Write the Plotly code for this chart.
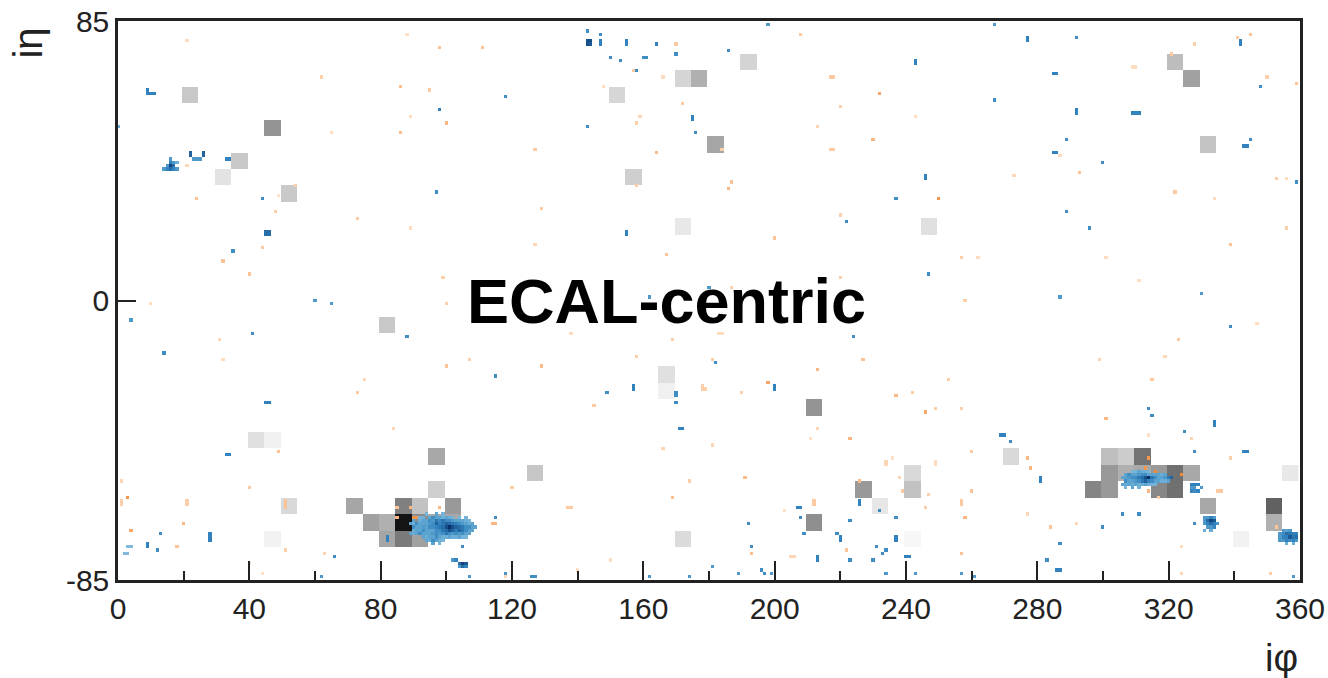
import numpy as np
import plotly.graph_objects as go

# ---------------------------------------------------------------------------
# HCAL towers: (tower iphi index 0..71, tower ieta index 0..33, energy 0..1)
# each tower covers 5x5 ECAL crystals
# ---------------------------------------------------------------------------
hcal_tphi = [4, 9, 7, 6, 10, 30, 34, 35, 31, 34, 36, 38, 49, 64, 65, 66,
             16, 8, 9, 10, 9, 19, 19,
             14, 17, 18, 20,
             15, 16, 17, 18, 19, 20,
             16, 17, 18,
             25, 33, 33, 34, 42, 42, 45, 46, 48, 48, 48, 54,
             60, 61, 62,
             60, 61, 62, 63, 64, 65,
             59, 60, 63, 64,
             66, 70, 70, 71, 68]
hcal_teta = [29, 27, 25, 24, 23, 29, 30, 30, 24, 21, 26, 31, 21, 31, 30, 26,
             15, 8, 8, 4, 2, 7, 5,
             4, 4, 4, 4,
             3, 3, 3, 3, 3, 3,
             2, 2, 2,
             6, 12, 11, 2, 10, 3, 5, 4, 6, 5, 2, 7,
             7, 7, 7,
             6, 6, 6, 6, 6, 6,
             5, 5, 5, 5,
             4, 4, 3, 6, 2]
hcal_energy = [0.215, 0.42, 0.215, 0.11, 0.21, 0.16, 0.165, 0.31, 0.19, 0.09, 0.35, 0.17, 0.12, 0.26, 0.37, 0.23,
               0.215, 0.12, 0.06, 0.15, 0.05, 0.34, 0.19,
               0.35, 0.50, 0.24, 0.40,
               0.37, 0.31, 0.92, 0.45, 0.34, 0.34,
               0.35, 0.52, 0.37,
               0.22, 0.12, 0.06, 0.14, 0.42, 0.44, 0.40, 0.10, 0.15, 0.24, 0.03, 0.15,
               0.25, 0.20, 0.55,
               0.40, 0.31, 0.34, 0.40, 0.56, 0.34,
               0.48, 0.40, 0.47, 0.56,
               0.34, 0.62, 0.31, 0.09, 0.05]

# ---------------------------------------------------------------------------
# ECAL crystal hits (blue): iphi, ieta, normalised energy
# ---------------------------------------------------------------------------
ecal_hits = [
    # scattered upper half
    (143, 82, .55), (147, 81, .55), (143, 79, .85), (144, 79, .85), (143, 78, .85), (144, 78, .8),
    (147, 79, .6), (147, 78, .6), (155, 79, .6), (155, 78, .6), (164, 78, .6), (170, 75, .55),
    (150, 74, .55), (153, 73, .55), (160, 74, .55), (161, 74, .55), (158, 70, .55), (118, 62, .55),
    (98, 58, .6), (143, 53, .55), (175, 56, .6), (175, 55, .6), (176, 51, .55), (97, 33, .55),
    (44, 31, .55), (45, 20, .7), (46, 20, .7), (45, 21, .7), (46, 21, .7), (35, 15, .55),
    (155, 21, .6), (155, 20, .6), (60, 0, .5), (65, -1, .5), (162, 1, .5), (180, 4, .5), (0, 53, .4),
    (9, 64, .6), (9, 63, .6), (10, 63, .6), (11, 63, .6),
    (16, 43, .5), (17, 42, .5), (16, 42, .6), (15, 41, .5), (16, 41, .9), (17, 41, .7),
    (14, 40, .5), (15, 40, .6), (16, 40, .7), (17, 40, .6), (18, 40, .5), (18, 42, .4),
    (22, 44, .75), (22, 45, .75), (26, 44, .75), (26, 45, .75), (23, 43, .5), (24, 43, .5), (25, 43, .5),
    (33, 43, .6), (34, 43, .6),
    (186, 76, .55), (243, 73, .6), (243, 72, .6), (277, 80, .6), (277, 79, .6), (292, 80, .55),
    (285, 69, .6), (286, 69, .6), (267, 61, .55), (292, 58, .6), (292, 57, .6),
    (309, 57, .6), (310, 57, .6), (311, 57, .6), (289, 49, .55), (285, 45, .6), (286, 45, .6),
    (300, 42, .55), (342, 79, .6), (342, 78, .6), (348, 65, .55), (345, 49, .55), (343, 47, .6),
    (344, 47, .6), (359, 36, .55), (246, 38, .6), (246, 37, .6), (237, 31, .55), (222, 24, .55),
    (289, 27, .55), (296, 22, .55), (247, 8, .55), (287, 1, .5), (330, 2, .5), (198, 84, .5), (267, 84, .5),
    # scattered lower half
    (4, -6, .5), (41, -10, .55), (14, -16, .55), (88, -11, .55), (115, -23, .55), (45, -31, .6),
    (46, -31, .6), (33, -47, .6), (34, -47, .6), (149, -28, .55), (157, -27, .6), (157, -26, .6),
    (170, -29, .55), (170, -28, .55), (170, -31, .55), (171, -39, .6), (172, -39, .6), (182, -19, .55),
    (115, -66, .55), (13, -71, .55), (9, -74, .6), (9, -75, .6), (12, -76, .55),
    (3, -75, .3), (4, -75, .3), (2, -77, .3), (3, -77, .3), (28, -71, .6), (28, -72, .6), (28, -73, .6),
    (66, -78, .55), (82, -72, .6), (82, -73, .6), (105, -75, .55), (118, -83, .5), (126, -84, .55),
    (127, -84, .55), (107, -84, .5), (62, -84, .5), (162, -84, .5), (174, -84, .5), (181, -81, .5),
    (102, -79, .5), (103, -79, .6), (104, -80, .7), (105, -80, .9), (106, -80, .8), (105, -81, .7),
    (106, -81, .6), (104, -81, .5),
    (224, -11, .55), (200, -26, .6), (200, -27, .6), (339, -8, .55), (269, -41, .6), (270, -41, .6),
    (272, -43, .55), (281, -54, .6), (281, -55, .6), (314, -33, .55), (315, -35, .55), (325, -40, .55),
    (334, -37, .6), (334, -38, .6), (328, -46, .55), (343, -46, .6), (344, -46, .6), (306, -65, .55),
    (311, -65, .55), (300, -69, .55), (328, -68, .55), (287, -74, .55), (283, -79, .55), (286, -82, .6),
    (287, -82, .6), (207, -63, .6), (208, -63, .6), (208, -66, .55), (192, -68, .55), (209, -71, .55),
    (219, -71, .55), (220, -72, .6), (220, -73, .6), (223, -67, .55), (226, -61, .6), (226, -62, .6),
    (232, -64, .55), (237, -66, .55), (237, -72, .6), (237, -73, .6), (193, -75, .55), (213, -78, .6),
    (213, -79, .6), (223, -79, .55), (230, -79, .55), (231, -75, .55), (233, -77, .55), (234, -76, .55),
    (240, -78, .6), (241, -78, .6), (189, -83, .5), (196, -82, .55), (197, -83, .55), (199, -83, .5),
    (234, -83, .5), (243, -83, .5), (257, -83, .5), (261, -84, .5), (358, -84, .5),
    # shower near iphi 100, ieta -70
    (94, -65, .35), (97, -65, .45), (99, -65, .35),
    (92, -66, .35), (93, -66, .4), (95, -66, .45), (96, -66, .55), (97, -66, .45), (98, -66, .45), (99, -66, .4),
    (100, -66, .45), (101, -66, .4), (102, -66, .35), (104, -66, .35), (106, -66, .35),
    (90, -67, .45), (92, -67, .4), (93, -67, .45), (94, -67, .45), (95, -67, .55), (96, -67, .5), (97, -67, .65),
    (98, -67, .55), (99, -67, .65), (100, -67, .55), (101, -67, .55), (102, -67, .5), (103, -67, .45),
    (104, -67, .45), (105, -67, .45), (106, -67, .4), (107, -67, .35),
    (89, -68, .45), (90, -68, .4), (91, -68, .55), (92, -68, .45), (93, -68, .45), (94, -68, .45), (95, -68, .5),
    (96, -68, .55), (97, -68, .75), (98, -68, .6), (99, -68, .65), (100, -68, .75), (101, -68, .7), (102, -68, .65),
    (103, -68, .6), (104, -68, .55), (105, -68, .5), (106, -68, .45), (107, -68, .4), (108, -68, .45),
    (90, -69, .55), (91, -69, .45), (92, -69, .45), (93, -69, .5), (94, -69, .45), (95, -69, .55), (96, -69, .55),
    (97, -69, .6), (98, -69, .65), (99, -69, .7), (100, -69, .85), (101, -69, 1.0), (102, -69, .85),
    (103, -69, .75), (104, -69, .7), (105, -69, .65), (106, -69, .55), (107, -69, .55), (108, -69, .45), (109, -69, .45),
    (90, -70, .4), (91, -70, .45), (92, -70, .45), (93, -70, .55), (94, -70, .45), (95, -70, .45), (96, -70, .45),
    (97, -70, .55), (98, -70, .55), (99, -70, .65), (100, -70, .7), (101, -70, .85), (102, -70, .75), (103, -70, .65),
    (104, -70, .75), (105, -70, .65), (106, -70, .55), (107, -70, .45), (108, -70, .45),
    (89, -71, .45), (90, -71, .4), (91, -71, .45), (92, -71, .55), (93, -71, .45), (94, -71, .45), (95, -71, .45),
    (96, -71, .5), (97, -71, .55), (98, -71, .5), (99, -71, .55), (100, -71, .65), (101, -71, .55), (102, -71, .5),
    (103, -71, .55), (104, -71, .5), (105, -71, .55), (106, -71, .45), (107, -71, .45),
    (93, -72, .45), (94, -72, .4), (95, -72, .45), (96, -72, .45), (97, -72, .55), (98, -72, .45), (99, -72, .4),
    (100, -72, .4), (101, -72, .45), (102, -72, .4), (103, -72, .4), (104, -72, .45), (105, -72, .35), (106, -72, .35),
    (94, -73, .45), (95, -73, .4), (96, -73, .55), (97, -73, .45), (98, -73, .4), (99, -73, .35),
    (96, -74, .45), (98, -74, .35),
    # shower near iphi 313, ieta -54
    (309, -52, .35), (310, -52, .35), (311, -52, .45), (312, -52, .4), (313, -52, .4), (314, -52, .35), (316, -52, .35),
    (307, -53, .45), (308, -53, .55), (309, -53, .45), (310, -53, .45), (311, -53, .5), (312, -53, .55), (313, -53, .55),
    (314, -53, .45), (315, -53, .45), (316, -53, .45), (317, -53, .45), (318, -53, .4), (319, -53, .45),
    (306, -54, .45), (307, -54, .45), (308, -54, .5), (309, -54, .55), (310, -54, .55), (311, -54, .65),
    (312, -54, .7), (313, -54, .85), (314, -54, 1.0), (315, -54, .65), (316, -54, .55), (317, -54, .45),
    (318, -54, .45), (319, -54, .5), (320, -54, .65), (321, -54, .75),
    (307, -55, .55), (308, -55, .45), (309, -55, .45), (310, -55, .5), (311, -55, .55), (312, -55, .65),
    (313, -55, .75), (314, -55, .6), (315, -55, .55), (316, -55, .45), (317, -55, .45), (318, -55, .4),
    (319, -55, .4), (320, -55, .45),
    (306, -56, .45), (307, -56, .4), (308, -56, .45), (309, -56, .4), (310, -56, .45), (311, -56, .4),
    (312, -56, .4), (313, -56, .45), (314, -56, .4), (315, -56, .35), (316, -56, .35),
    (307, -57, .35), (309, -57, .45), (311, -57, .35),
    (327, -56, .6), (328, -56, .6), (329, -56, .6), (327, -57, .5), (328, -57, .5), (327, -58, .6),
    (328, -58, .55), (329, -58, .6), (330, -57, .5),
    (331, -66, .5), (332, -66, .5), (333, -66, .6), (334, -66, .5), (331, -67, .5), (332, -67, .7), (333, -67, .9),
    (334, -67, .8), (331, -68, .5), (332, -68, .6), (333, -68, .7), (334, -68, .6), (335, -68, .5),
    (332, -69, .5), (333, -69, .5), (334, -69, .6), (331, -70, .4), (333, -70, .4),
    (355, -70, .5), (356, -70, .45), (357, -70, .5), (354, -71, .5), (355, -71, .55), (356, -71, .7),
    (357, -71, .65), (358, -71, .6), (359, -71, .6), (354, -72, .5), (355, -72, .6), (356, -72, .6),
    (357, -72, .8), (358, -72, .65), (359, -72, .7), (354, -73, .5), (355, -73, .5), (356, -73, .6),
    (357, -73, .55), (358, -73, .6), (359, -73, .5), (356, -74, .4), (358, -74, .4),
]

# ---------------------------------------------------------------------------
# track hits projected on the ECAL surface (orange): iphi, ieta, weight
# ---------------------------------------------------------------------------
track_hits = [
    (21, 79, .3), (88, 81, .25), (98, 77, .5), (111, 77, .5), (62, 68, .4), (86, 65, .55), (95, 64, .45),
    (89, 56, .3), (100, 54, .6), (86, 51, .55), (65, 51, .3), (127, 46, .45), (170, 78, .45), (166, 68, .3),
    (148, 65, .3), (157, 70, .45), (172, 60, .45), (159, 56, .35), (158, 54, .4), (164, 45, .55), (158, 35, .4),
    (21, 41, .35), (54, 35, .4), (49, 32, .25), (24, 31, .5), (48, 27, .4), (73, 25, .45), (89, 22, .3),
    (129, 28, .45), (127, 17, .35), (167, 14, .5), (44, 16, .45), (32, 12, .5), (40, 8, .5), (99, 7, .4),
    (100, -1, .4), (10, -1, .3),
    (208, 81, .45), (217, 68, .45), (218, 68, .45), (232, 63, .7), (220, 59, .4), (243, 56, .3), (213, 53, .35),
    (230, 49, .6), (217, 46, .45), (218, 46, .45), (184, 46, .4), (187, 36, .5), (186, 34, .6), (250, 31, .8),
    (220, 26, .4), (200, 19, .5), (273, 38, .35), (287, 44, .3), (293, 39, .5), (309, 71, .3), (310, 71, .3),
    (321, 75, .45), (328, 78, .4), (341, 80, .45), (345, 81, .5), (350, 68, .4), (359, 66, .5), (322, 33, .45),
    (334, 31, .3), (353, 37, .4), (356, 37, .3), (356, 22, .4), (339, 17, .5), (257, 13, .4), (262, 13, .3),
    (301, 13, .3), (311, 6, .25), (220, 7, .4), (187, 4, .4), (258, 0, .4),
    (31, -12, .35), (32, -18, .3), (75, -24, .35), (73, -28, .45), (100, -20, .5), (107, -18, .4),
    (129, -20, .55), (138, -10, .3), (158, -17, .4), (169, -12, .4), (145, -32, .45), (178, -26, .4),
    (178, -27, .4), (181, -18, .4), (84, -39, .35), (49, -46, .5), (166, -45, .35), (181, -44, .35),
    (174, -55, .4), (169, -60, .55), (120, -57, .4), (40, -57, .45), (1, -55, .35), (3, -60, .8), (1, -61, .4),
    (1, -62, .4), (21, -61, .4), (21, -62, .4), (51, -61, .5), (51, -62, .5), (51, -63, .5), (20, -68, .6),
    (4, -70, .7), (18, -75, .5), (51, -76, .4), (63, -77, .35), (44, -83, .25), (40, -80, .2), (137, -63, .45),
    (138, -63, .45), (114, -68, .6), (115, -68, .6), (150, -79, .3), (140, -82, .25), (118, -84, .35),
    (85, -63, .5), (89, -63, .6), (98, -63, .6), (85, -66, .6), (90, -66, .8), (91, -66, .8),
    (183, -10, .3), (184, -10, .3), (227, -18, .5), (213, -21, .6), (198, -25, .7), (190, -28, .4),
    (179, -27, .4), (253, -24, .4), (237, -29, .6), (242, -28, .4), (246, -34, .7), (249, -33, .4),
    (257, -33, .4), (213, -39, .35), (211, -42, .25), (223, -42, .6), (347, -7, .3), (323, -12, .45),
    (319, -17, .35), (299, -18, .35), (315, -24, .45), (301, -36, .6), (314, -41, .25), (327, -42, .35),
    (339, -48, .4), (335, -58, .45), (336, -58, .45), (314, -48, .8), (313, -51, .8), (316, -52, .9),
    (324, -53, .9), (314, -58, .6), (317, -60, .4), (260, -46, .45), (277, -48, .6), (278, -51, .6),
    (234, -49, .35), (234, -50, .35), (236, -48, .25), (249, -49, .3), (249, -50, .3), (238, -54, .35),
    (239, -58, .45), (247, -59, .4), (260, -58, .5), (226, -55, .55), (191, -54, .55), (212, -61, .45),
    (212, -62, .45), (203, -64, .25), (257, -61, .45), (257, -62, .45), (258, -66, .6), (246, -63, .4),
    (277, -65, .35), (284, -69, .5), (292, -68, .35), (193, -77, .55), (205, -78, .35), (206, -78, .35),
    (222, -76, .5), (257, -77, .5), (324, -75, .3), (324, -83, .35), (351, -83, .4), (353, -69, .5),
]

# axis ticks and labels
x_major_ticks = [0, 40, 80, 120, 160, 200, 240, 280, 320, 360]
x_minor_ticks = [20, 60, 100, 140, 180, 220, 260, 300, 340]
y_ticks = [-85, 0, 85]
x_title = "iφ"
y_title = "iη"
panel_label = "ECAL-centric"

# ---------------------------------------------------------------------------
# gridded images
# ---------------------------------------------------------------------------
N_TPHI, N_TETA = 72, 34
hcal_img = np.full((N_TETA, N_TPHI), np.nan)
for i, j, e in zip(hcal_tphi, hcal_teta, hcal_energy):
    hcal_img[j, i] = e
hcal_x = 2 + 5 * np.arange(N_TPHI)          # tower centres in crystal units
hcal_y = -82.5 + 5 * np.arange(N_TETA)

cry_x = np.arange(0, 361)
cry_y = np.arange(-85, 86)


def crystal_image(hits):
    img = np.full((cry_y.size, cry_x.size), np.nan)
    for ip, ie, e in hits:
        img[ie + 85, ip] = e
    return img


ecal_img = crystal_image(ecal_hits)
trk_img = crystal_image(track_hits)

fig = go.Figure()
fig.add_trace(go.Heatmap(
    x=hcal_x, y=hcal_y, z=hcal_img, zmin=0, zmax=1,
    colorscale=[[0, "#ffffff"], [1, "#000000"]],
    showscale=False, hoverinfo="skip", zsmooth=False))
fig.add_trace(go.Heatmap(
    x=cry_x, y=cry_y, z=ecal_img, zmin=0, zmax=1,
    colorscale=[[0, "#c6dbef"], [0.4, "#6baed6"], [0.6, "#3182bd"], [1, "#08306b"]],
    showscale=False, hoverinfo="skip", zsmooth=False))
fig.add_trace(go.Heatmap(
    x=cry_x, y=cry_y, z=trk_img, zmin=0, zmax=1,
    colorscale=[[0, "#fff4ea"], [0.3, "#fddcbf"], [0.6, "#fbb682"], [1, "#f07a1a"]],
    showscale=False, hoverinfo="skip", zsmooth=False))

axis_font = dict(family="Liberation Sans, Arial, sans-serif", size=30, color="#222")

fig.update_xaxes(
    range=[0, 360], tickvals=x_major_ticks, ticks="inside", ticklen=19, tickwidth=2,
    tickcolor="#222", showline=True, linewidth=2.5, linecolor="#222", mirror=True,
    showgrid=False, zeroline=False, tickfont=axis_font, automargin=False,
    minor=dict(tickvals=x_minor_ticks, ticks="inside",
               ticklen=9, tickwidth=2, tickcolor="#222", showgrid=False))
fig.update_yaxes(
    range=[-85, 85], tickvals=y_ticks, ticktext=[str(v) for v in y_ticks],
    ticks="inside", ticklen=18, tickwidth=2, tickcolor="#222",
    showline=True, linewidth=2.5, linecolor="#222", mirror=True,
    showgrid=False, zeroline=False, tickfont=axis_font, automargin=False)

fig.add_annotation(x=167, y=0, xref="x", yref="y", text=f"<b>{panel_label}</b>",
                   showarrow=False, xanchor="center", yanchor="middle",
                   font=dict(family="Liberation Sans, Arial, sans-serif", size=63, color="#000"))
fig.add_annotation(x=-0.076, y=0.96, xref="paper", yref="paper", text=y_title,
                   textangle=-90, showarrow=False, xanchor="center", yanchor="middle",
                   font=dict(family="Liberation Sans, Arial, sans-serif", size=40, color="#222"))
fig.add_annotation(x=0.9845, y=-0.14, xref="paper", yref="paper", text=x_title,
                   showarrow=False, xanchor="center", yanchor="middle",
                   font=dict(family="Liberation Sans, Arial, sans-serif", size=38, color="#222"))

fig.update_layout(
    width=1328, height=678,
    margin=dict(l=118, r=28, t=21, b=98, autoexpand=False),
    paper_bgcolor="white", plot_bgcolor="white",
    showlegend=False)

fig.write_html("out.html")
